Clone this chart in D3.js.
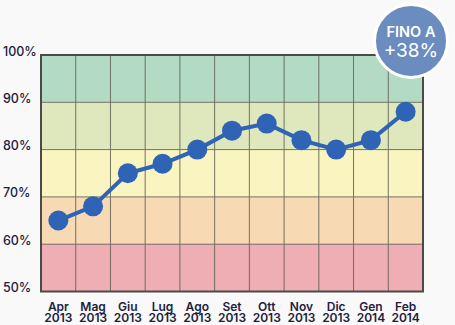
<!DOCTYPE html>
<html>
<head>
<meta charset="utf-8">
<script src="https://cdn.jsdelivr.net/npm/d3@7"></script>
<style>
  html, body { margin: 0; padding: 0; background: #f9f9f9; }
  svg { display: block; font-family: Inter, "Open Sans", sans-serif; }
</style>
</head>
<body>
<svg id="chart" width="455" height="325"></svg>
<script>
// Monthly values (%)
const months = ["Apr", "Mag", "Giu", "Lug", "Ago", "Set", "Ott", "Nov", "Dic", "Gen", "Feb"];
const years = ["2013", "2013", "2013", "2013", "2013", "2013", "2013", "2013", "2013", "2014", "2014"];
const values = [65, 68, 75, 77, 80, 84, 85.5, 82, 80, 82, 88];
const yTicks = [50, 60, 70, 80, 90, 100];
// Background bands: [from, to]
const bandRanges = [[90, 100], [80, 90], [70, 80], [60, 70], [50, 60]];
const bandColors = ["#b3dbc3", "#dfe8bd", "#f9f4c0", "#f7d9b4", "#efaeb4"];
const badgeLines = ["FINO A", "+38%"];

const svg = d3.select("#chart");
const plotLeft = 41, plotRight = 423, plotTop = 55, plotBottom = 291.5;

const x = d3.scaleBand().domain(months).range([plotLeft, plotRight]).padding(0);
const y = d3.scaleLinear().domain([50, 100]).range([plotBottom, plotTop]);

// Coloured bands
svg.append("g").selectAll("rect")
  .data(bandRanges)
  .join("rect")
  .attr("x", plotLeft)
  .attr("width", plotRight - plotLeft)
  .attr("y", d => y(d[1]))
  .attr("height", d => y(d[0]) - y(d[1]))
  .attr("fill", (d, i) => bandColors[i]);

// Grid: vertical column separators and horizontal band boundaries
const grid = svg.append("g").attr("stroke", "#5e5e52").attr("stroke-width", 1).attr("opacity", 0.85);
grid.selectAll("line.v")
  .data(months.slice(1))
  .join("line")
  .attr("class", "v")
  .attr("x1", d => x(d)).attr("x2", d => x(d))
  .attr("y1", plotTop).attr("y2", plotBottom);
grid.selectAll("line.h")
  .data(yTicks.slice(1, -1))
  .join("line")
  .attr("class", "h")
  .attr("x1", plotLeft).attr("x2", plotRight)
  .attr("y1", d => y(d)).attr("y2", d => y(d));

// Outer frame
svg.append("rect")
  .attr("x", plotLeft).attr("y", plotTop)
  .attr("width", plotRight - plotLeft).attr("height", plotBottom - plotTop)
  .attr("fill", "none").attr("stroke", "#4a4a48").attr("stroke-width", 2);

// Y axis labels
const yAxis = svg.append("g")
  .call(d3.axisLeft(y).tickValues(yTicks).tickSize(0).tickFormat(d => d + "%"));
yAxis.select(".domain").remove();
yAxis.selectAll("text")
  .attr("x", 3).attr("y", -4)
  .attr("text-anchor", "start")
  .attr("fill", "#1c2140")
  .attr("font-size", 12.5)
  .attr("font-weight", 500)
  .attr("font-family", "Inter, sans-serif");

// X axis labels (month / year)
const xAxis = svg.append("g")
  .attr("transform", `translate(0,${plotBottom})`)
  .call(d3.axisBottom(x).tickSize(0).tickFormat(""));
xAxis.select(".domain").remove();
xAxis.selectAll(".tick text").remove();
xAxis.selectAll(".tick").append("text")
  .attr("text-anchor", "middle")
  .attr("fill", "#1c2140")
  .attr("font-size", 12)
  .attr("font-weight", 600)
  .attr("font-family", "Inter, sans-serif")
  .each(function(d, i) {
    const t = d3.select(this);
    t.append("tspan").attr("x", 0).attr("y", 19.5).text(d);
    t.append("tspan").attr("x", 0).attr("y", 30.5).text(years[i]);
  });

// Line and markers
const cx = d => x(d) + x.bandwidth() / 2;
svg.append("path")
  .datum(values)
  .attr("fill", "none")
  .attr("stroke", "#2e63b6")
  .attr("stroke-width", 4)
  .attr("d", d3.line().x((d, i) => cx(months[i])).y(d => y(d)));
svg.append("g").selectAll("circle")
  .data(values)
  .join("circle")
  .attr("cx", (d, i) => cx(months[i]))
  .attr("cy", d => y(d))
  .attr("r", 10)
  .attr("fill", "#2e63b6");

// Badge
const badge = svg.append("g").attr("transform", "translate(411,41)");
badge.append("circle").attr("r", 36.5)
  .attr("fill", "#6b8cbf").attr("stroke", "#ffffff").attr("stroke-width", 3);
badge.append("text")
  .attr("text-anchor", "middle").attr("y", -4)
  .attr("fill", "#ffffff").attr("font-size", 14.5).attr("font-weight", 600)
  .text(badgeLines[0]);
badge.append("text")
  .attr("text-anchor", "middle").attr("y", 16)
  .attr("fill", "#ffffff").attr("font-size", 19).attr("font-weight", 400)
  .text(badgeLines[1]);
</script>
</body>
</html>
